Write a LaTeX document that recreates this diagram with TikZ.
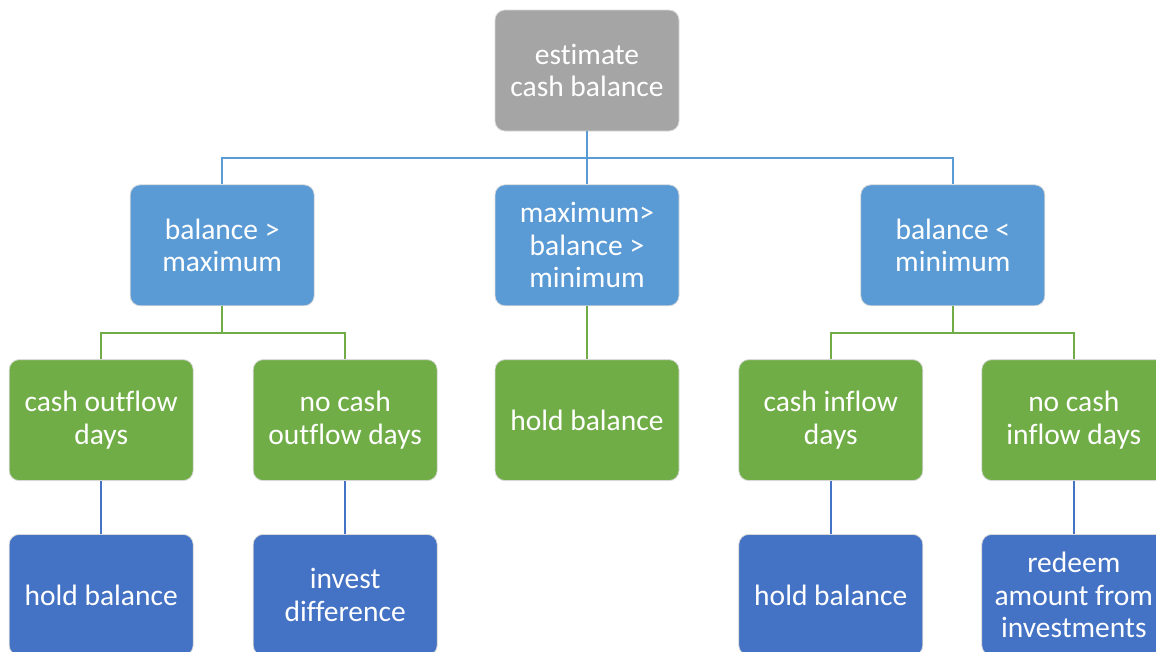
\documentclass[tikz,border=0pt]{standalone}
\usepackage{fontspec}
\setmainfont[Ligatures={NoCommon}]{Carlito}
\usetikzlibrary{positioning, calc}
\definecolor{boxgray}{HTML}{A5A5A5}
\definecolor{boxblue}{HTML}{5B9BD5}
\definecolor{boxgreen}{HTML}{70AD47}
\definecolor{boxdark}{HTML}{4472C4}
\begin{document}
\begin{tikzpicture}[thick, bline/.style={draw=boxblue, line width=2.4pt}, gline/.style={draw=boxgreen, line width=2.4pt}, dline/.style={draw=boxdark, line width=2.4pt}]
    % Define styles for the boxes of each level
    \tikzstyle{box} = [rectangle, rounded corners=10pt, draw=white!85!black, line width=0.8pt, text=white, align=center, minimum width=184pt, minimum height=121pt, inner sep=0pt, font=\fontsize{29.5}{32.5}\selectfont]
    \tikzstyle{root} = [box, fill=boxgray]
    \tikzstyle{case} = [box, fill=boxblue]
    \tikzstyle{sub} = [box, fill=boxgreen]
    \tikzstyle{act} = [box, fill=boxdark]

    \useasboundingbox (0,0) rectangle (1156pt,-651pt);

    % Nodes placement
    \node [root] (estimate) at (587pt,-70.5pt) {estimate\\cash balance};
    \node [case, below=53pt of estimate] (between) {maximum>\\balance >\\minimum};
    \node [case, left=180pt of between] (above) {balance >\\maximum};
    \node [case, right=181pt of between] (below) {balance <\\minimum};

    \node [sub, below=53pt of between] (holdmid) {hold balance};
    \node [sub, below=53pt of above, xshift=-121pt] (outflow) {cash outflow\\days};
    \node [sub, below=53pt of above, xshift=123pt] (nooutflow) {no cash\\outflow days};
    \node [sub, below=53pt of below, xshift=-122pt] (inflow) {cash inflow\\days};
    \node [sub, below=53pt of below, xshift=121pt] (noinflow) {no cash\\inflow days};

    \node [act, below=53pt of outflow] (holdout) {hold balance};
    \node [act, below=53pt of nooutflow] (invest) {invest\\difference};
    \node [act, below=53pt of inflow] (holdin) {hold balance};
    \node [act, below=53pt of noinflow] (redeem) {redeem\\amount from\\investments};

    % Draw edges
    \coordinate (split) at ($(estimate.south)!0.5!(between.north)$);
    \draw[bline] (estimate.south) -- (between.north);
    \draw[bline] (above.north) |- (split) -| (below.north);

    \coordinate (splitleft) at ($(above.south)!0.5!(above.south |- outflow.north)$);
    \draw[gline] (above.south) -- (splitleft);
    \draw[gline] (outflow.north) |- (splitleft) -| (nooutflow.north);
    \draw[gline] (between.south) -- (holdmid.north);
    \coordinate (splitright) at ($(below.south)!0.5!(below.south |- inflow.north)$);
    \draw[gline] (below.south) -- (splitright);
    \draw[gline] (inflow.north) |- (splitright) -| (noinflow.north);

    \draw[dline] (outflow) -- (holdout);
    \draw[dline] (nooutflow) -- (invest);
    \draw[dline] (inflow) -- (holdin);
    \draw[dline] (noinflow) -- (redeem);
\end{tikzpicture}
\end{document}
